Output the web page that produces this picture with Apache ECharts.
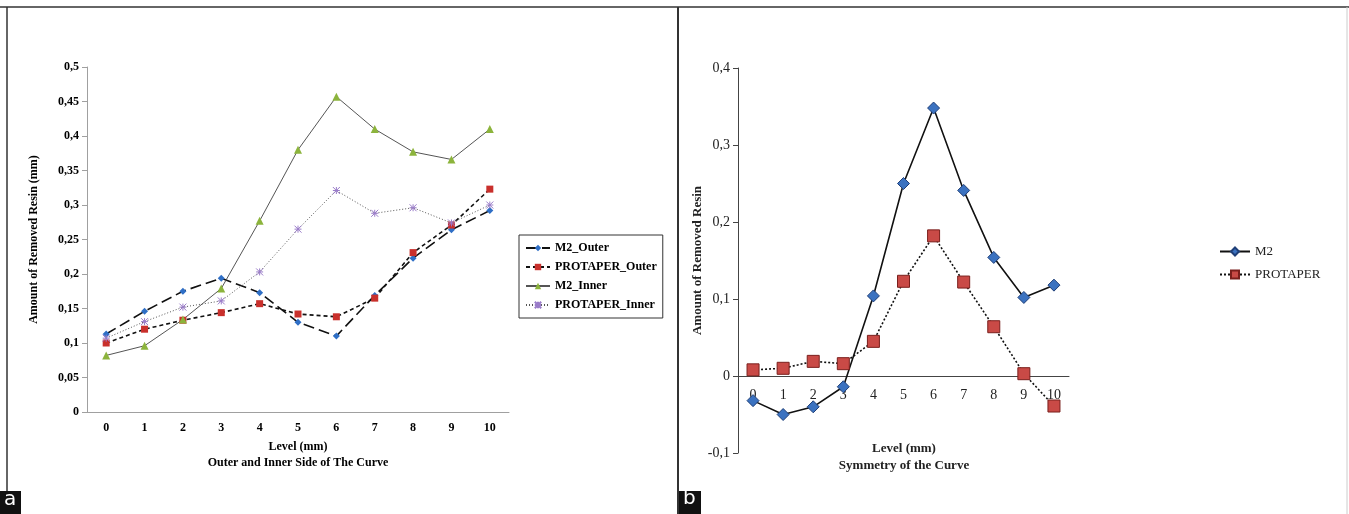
<!DOCTYPE html>
<html>
<head>
<meta charset="utf-8">
<script src="https://cdn.jsdelivr.net/npm/echarts@6/dist/echarts.min.js"></script>
<style>
  html, body { margin: 0; padding: 0; background: #fff; }
  #main { width: 1349px; height: 514px; }
</style>
</head>
<body>
<div id="main"></div>
<script>
// levels along the canal (mm)
var levels = ['0', '1', '2', '3', '4', '5', '6', '7', '8', '9', '10'];

// panel a: outer and inner side of the curve
var m2Outer = [0.113, 0.146, 0.175, 0.194, 0.173, 0.130, 0.110, 0.169, 0.223, 0.264, 0.292];
var protaperOuter = [0.100, 0.120, 0.133, 0.144, 0.157, 0.142, 0.138, 0.165, 0.231, 0.271, 0.323];
var m2Inner = [0.082, 0.096, 0.134, 0.179, 0.277, 0.380, 0.457, 0.410, 0.377, 0.366, 0.410];
var protaperInner = [0.107, 0.131, 0.152, 0.161, 0.203, 0.265, 0.321, 0.288, 0.296, 0.274, 0.300];

// panel b: symmetry of the curve
var m2Sym = [-0.032, -0.050, -0.040, -0.014, 0.104, 0.250, 0.348, 0.241, 0.154, 0.102, 0.118];
var protaperSym = [0.008, 0.010, 0.019, 0.016, 0.045, 0.123, 0.182, 0.122, 0.064, 0.003, -0.039];

var commaFmt = function (v) { return String(+v.toFixed(2)).replace('.', ','); };
var serif = '"Liberation Serif", "Times New Roman", serif';
var star = 'path://M0,0L10,10M10,0L0,10M5,0L5,10M0,5L10,5';

var chart = echarts.init(document.getElementById('main'));

// panel b: plot height 385px over 0.5 units, zero line sits 77px above the bottom
var bHeight = 385;

var option = {
    backgroundColor: '#fff',
    animation: false,
    textStyle: { fontFamily: serif },
    grid: [
        { left: 87, top: 67, width: 422, height: 345, containLabel: false, outerBoundsMode: 'none' },
        { left: 738, top: 68, width: 331, height: bHeight, containLabel: false, outerBoundsMode: 'none' }
    ],
    legend: [
        {
            orient: 'vertical', left: 519, top: 235,
            padding: [7, 6, 7, 6], itemGap: 7, itemWidth: 24, itemHeight: 8,
            borderColor: '#333', borderWidth: 1,
            textStyle: { fontFamily: serif, fontWeight: 'bold', fontSize: 12, color: '#000' },
            data: ['M2_Outer', 'PROTAPER_Outer', 'M2_Inner', 'PROTAPER_Inner']
        },
        {
            orient: 'vertical', left: 1214, top: 240,
            itemGap: 10, itemWidth: 30, itemHeight: 10,
            textStyle: { fontFamily: serif, fontSize: 13, color: '#222' },
            data: ['M2', 'PROTAPER']
        }
    ],
    xAxis: [
        {
            gridIndex: 0, type: 'category', data: levels,
            name: 'Level (mm)\nOuter and Inner Side of The Curve',
            nameLocation: 'middle', nameGap: 25,
            nameTextStyle: { fontFamily: serif, fontWeight: 'bold', fontSize: 12, color: '#000', lineHeight: 16 },
            axisLine: { lineStyle: { color: '#a0a0a0' } },
            axisTick: { lineStyle: { color: '#a0a0a0' }, length: 5 },
            axisLabel: { fontFamily: serif, fontWeight: 'bold', fontSize: 12, color: '#000', margin: 10 },
            splitLine: { show: false }
        },
        {
            gridIndex: 1, type: 'category', data: levels,
            position: 'bottom', offset: -bHeight / 5,
            axisLine: { onZero: false, lineStyle: { color: '#444' } },
            axisTick: { lineStyle: { color: '#444' }, length: 5 },
            axisLabel: { fontFamily: serif, fontSize: 14, color: '#222', margin: 12 },
            splitLine: { show: false }
        }
    ],
    yAxis: [
        {
            gridIndex: 0, type: 'value', min: 0, max: 0.5, interval: 0.05,
            name: 'Amount of Removed Resin (mm)',
            nameLocation: 'middle', nameGap: 47, nameRotate: 90,
            nameTextStyle: { fontFamily: serif, fontWeight: 'bold', fontSize: 12, color: '#000' },
            axisLine: { show: true, lineStyle: { color: '#a0a0a0' } },
            axisTick: { show: true, lineStyle: { color: '#a0a0a0' }, length: 5 },
            axisLabel: { fontFamily: serif, fontWeight: 'bold', fontSize: 12, color: '#000', formatter: commaFmt },
            splitLine: { show: false }
        },
        {
            gridIndex: 1, type: 'value', min: -0.1, max: 0.4, interval: 0.1,
            name: 'Amount of Removed Resin',
            nameLocation: 'middle', nameGap: 27, nameRotate: 90,
            nameTextStyle: { fontFamily: serif, fontWeight: 'bold', fontSize: 13, color: '#222' },
            axisLine: { show: true, lineStyle: { color: '#444' } },
            axisTick: { show: true, lineStyle: { color: '#444' }, length: 5 },
            axisLabel: { fontFamily: serif, fontSize: 14, color: '#222', formatter: commaFmt },
            splitLine: { show: false }
        }
    ],
    series: [
        {
            name: 'M2_Outer', type: 'line', xAxisIndex: 0, yAxisIndex: 0, data: m2Outer,
            symbol: 'diamond', symbolSize: 7,
            itemStyle: { color: '#2f6fc6' },
            lineStyle: { color: '#111', width: 1.6, type: [11, 5] }
        },
        {
            name: 'PROTAPER_Outer', type: 'line', xAxisIndex: 0, yAxisIndex: 0, data: protaperOuter,
            symbol: 'rect', symbolSize: 7,
            itemStyle: { color: '#c9302c' },
            lineStyle: { color: '#111', width: 1.6, type: [4, 3] }
        },
        {
            name: 'M2_Inner', type: 'line', xAxisIndex: 0, yAxisIndex: 0, data: m2Inner,
            symbol: 'triangle', symbolSize: 8,
            itemStyle: { color: '#8cb43c' },
            lineStyle: { color: '#555', width: 1, type: 'solid' }
        },
        {
            name: 'PROTAPER_Inner', type: 'line', xAxisIndex: 0, yAxisIndex: 0, data: protaperInner,
            symbol: star, symbolSize: 7,
            itemStyle: { color: '#9a7cc9', borderColor: '#9a7cc9', borderWidth: 1 },
            lineStyle: { color: '#555', width: 1, type: [1, 2] }
        },
        {
            name: 'M2', type: 'line', xAxisIndex: 1, yAxisIndex: 1, data: m2Sym,
            symbol: 'diamond', symbolSize: 12,
            itemStyle: { color: '#3b72c0', borderColor: '#1f3f78', borderWidth: 1 },
            lineStyle: { color: '#111', width: 1.6, type: 'solid' }
        },
        {
            name: 'PROTAPER', type: 'line', xAxisIndex: 1, yAxisIndex: 1, data: protaperSym,
            symbol: 'rect', symbolSize: 12,
            itemStyle: { color: '#c94a46', borderColor: '#7a1f1c', borderWidth: 1 },
            lineStyle: { color: '#111', width: 1.6, type: [2, 2] }
        }
    ],
    graphic: [
        { type: 'line', shape: { x1: 0, y1: 7, x2: 1349, y2: 7 }, style: { stroke: '#333', lineWidth: 1.5 } },
        { type: 'line', shape: { x1: 7, y1: 7, x2: 7, y2: 514 }, style: { stroke: '#333', lineWidth: 1.5 } },
        { type: 'line', shape: { x1: 678, y1: 7, x2: 678, y2: 514 }, style: { stroke: '#333', lineWidth: 2 } },
        { type: 'line', shape: { x1: 1347, y1: 7, x2: 1347, y2: 514 }, style: { stroke: '#ccc', lineWidth: 1 } },
        // x-axis title of panel b sits above the bottom of the plot, so it is placed as text
        {
            type: 'text', x: 904, y: 440,
            style: {
                text: 'Level (mm)\nSymmetry of the Curve', align: 'center', lineHeight: 17,
                fill: '#222', font: 'bold 13px "Liberation Serif", serif'
            }
        },
        { type: 'rect', shape: { x: 0, y: 491, width: 21, height: 23 }, style: { fill: '#111' } },
        { type: 'text', left: 4, top: 490, style: { text: 'a', fill: '#fff', font: '20px "DejaVu Sans", sans-serif' } },
        { type: 'rect', shape: { x: 679, y: 491, width: 22, height: 23 }, style: { fill: '#111' } },
        { type: 'text', left: 683, top: 489, style: { text: 'b', fill: '#fff', font: '20px "DejaVu Sans", sans-serif' } }
    ]
};

chart.setOption(option);
</script>
</body>
</html>
